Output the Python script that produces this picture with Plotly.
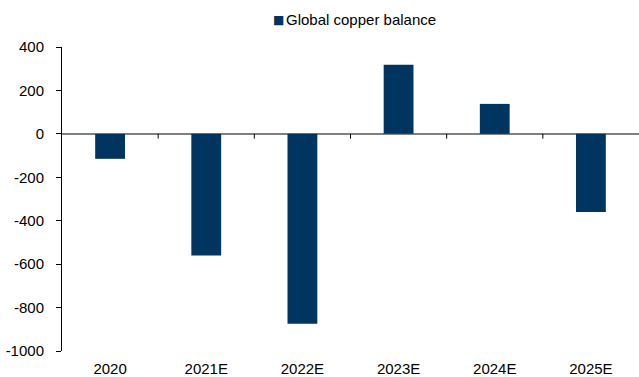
import plotly.graph_objects as go

BAR_COLOR = "#00355F"
AXIS_COLOR = "#000000"
ZERO_COLOR = "#808080"
FONT = "Liberation Sans, Arial"

years = ["2020", "2021E", "2022E", "2023E", "2024E", "2025E"]
balance = [-115, -560, -875, 318, 138, -360]
y_ticks = [400, 200, 0, -200, -400, -600, -800, -1000]
series_name = "Global copper balance"

fig = go.Figure(
    data=[
        go.Bar(
            x=years,
            y=balance,
            name=series_name,
            marker=dict(color=BAR_COLOR, line=dict(width=0)),
            width=0.31,
            showlegend=False,
        )
    ],
    layout=go.Layout(
        width=639,
        height=377,
        paper_bgcolor="white",
        plot_bgcolor="white",
        margin=dict(t=47, b=26, l=62, r=0, autoexpand=False),
        font=dict(family=FONT, size=15, color="#000000"),
        showlegend=False,
        xaxis={
            "type": "category",
            "range": [-0.5, 5.5],
            "showline": False,
            "showgrid": False,
            "ticks": "",
            "ticklabelstandoff": 7,
        },
        yaxis={
            "range": [-1000, 400],
            "tickvals": y_ticks,
            # plain hyphen minus, like the source chart
            "ticktext": [str(v) for v in y_ticks],
            "showline": True,
            "linecolor": AXIS_COLOR,
            "linewidth": 1,
            "ticks": "outside",
            "ticklen": 5,
            "tickcolor": AXIS_COLOR,
            "showgrid": False,
            "zeroline": True,
            "zerolinecolor": ZERO_COLOR,
            "zerolinewidth": 1.5,
            "ticklabelstandoff": 9,
        },
    ),
)

# legend drawn as annotations so the square sits tight against the text
fig.add_annotation(
    text="■", xref="paper", yref="paper", x=0.388, y=1.089,
    xanchor="right", yanchor="middle", showarrow=False,
    font=dict(size=12, color=BAR_COLOR, family="DejaVu Sans"),
)
fig.add_annotation(
    text=series_name, xref="paper", yref="paper", x=0.384, y=1.089,
    xanchor="left", yanchor="middle", showarrow=False,
    font=dict(size=15, family=FONT),
)

# category boundary ticks hanging off the zero line
for i in range(len(years) - 1):
    fig.add_shape(
        type="line",
        xref="x",
        yref="y",
        x0=i + 0.5,
        x1=i + 0.5,
        y0=0,
        y1=-22,
        line=dict(color=AXIS_COLOR, width=1),
    )

fig.write_html(
    "out.html",
    config={"displayModeBar": False},
    post_script="document.body.style.margin='0';",
)
